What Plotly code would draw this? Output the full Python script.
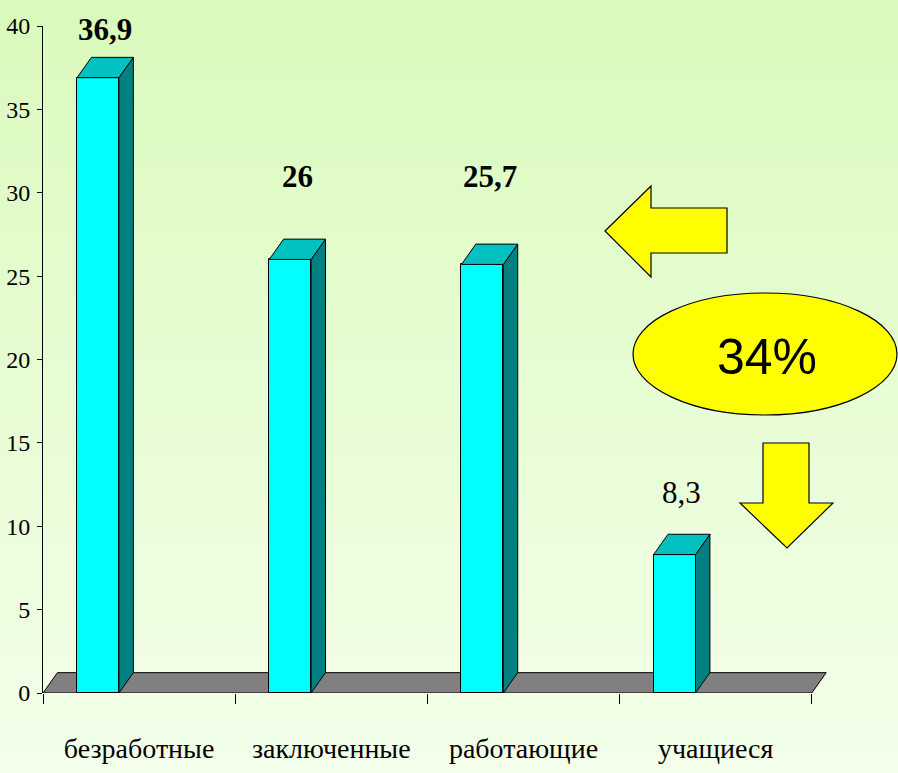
import plotly.graph_objects as go

# ---- data ----
categories = ["безработные", "заключенные", "работающие", "учащиеся"]
values = [36.9, 26, 25.7, 8.3]
value_labels = ["36,9", "26", "25,7", "8,3"]
y_ticks = [0, 5, 10, 15, 20, 25, 30, 35, 40]
share_text = "34%"

# ---- geometry / style ----
W, H = 898, 773
ML, MR, MT, MB = 43, 67, 26, 80
XMAX, YMAX = 4.1, 40
BAR_OFF, BAR_W = 0.177, 0.218     # front face inside each category slot
DX, DY = 0.075, 1.22              # 3D depth offset in axis units
label_offsets = [2.9, 5.0, 5.3, 3.7]
label_bold = [True, True, True, False]

FRONT, TOP, SIDE, FLOOR = "#00ffff", "#00c0c0", "#008080", "#808080"
SERIF = "Liberation Serif, Times New Roman, serif"

pw, ph = W - ML - MR, H - MT - MB
def px(xp):  # pixel -> paper x
    return (xp - ML) / pw
def py(yp):  # pixel -> paper y
    return (H - MB - yp) / ph

fig = go.Figure()

x_left = [i + BAR_OFF for i in range(len(values))]
fig.add_trace(go.Bar(
    x=[xl + BAR_W / 2 for xl in x_left], y=values, width=BAR_W, base=0,
    marker=dict(color=FRONT, line=dict(color="black", width=1)),
    hoverinfo="skip", showlegend=False))

shapes = []
# background gradient
top_c, bot_c = (218, 250, 188), (243, 255, 234)
n = 60
for k in range(n):
    t = k / (n - 1)
    c = tuple(round(top_c[j] + (bot_c[j] - top_c[j]) * t) for j in range(3))
    shapes.append(dict(type="rect", xref="paper", yref="paper", layer="below",
                       x0=px(0), x1=px(W), y0=py(k * H / n), y1=py((k + 1) * H / n + 1),
                       fillcolor="rgb(%d,%d,%d)" % c, line=dict(width=0)))
# floor
nc = len(categories)
shapes.append(dict(type="path", xref="x", yref="y", layer="below",
                   path=f"M0,0 L{nc},0 L{nc+DX},{DY} L{DX},{DY} Z",
                   fillcolor=FLOOR, line=dict(color="black", width=1)))
# 3D faces
for xl, v in zip(x_left, values):
    xr = xl + BAR_W
    shapes.append(dict(type="path", xref="x", yref="y", layer="above",
                       path=f"M{xr},0 L{xr+DX},{DY} L{xr+DX},{v+DY} L{xr},{v} Z",
                       fillcolor=SIDE, line=dict(color="black", width=1)))
    shapes.append(dict(type="path", xref="x", yref="y", layer="above",
                       path=f"M{xl},{v} L{xl+DX},{v+DY} L{xr+DX},{v+DY} L{xr},{v} Z",
                       fillcolor=TOP, line=dict(color="black", width=1)))

# decorations: left arrow, ellipse, down arrow
def poly(pts):
    return "M" + " L".join(f"{px(a):.5f},{py(b):.5f}" for a, b in pts) + " Z"

YEL = "#ffff00"
shapes.append(dict(type="path", xref="paper", yref="paper",
                   path=poly([(605, 231), (651, 186), (651, 208), (727, 208),
                              (727, 253), (651, 253), (651, 277)]),
                   fillcolor=YEL, line=dict(color="black", width=1.2)))
shapes.append(dict(type="circle", xref="paper", yref="paper",
                   x0=px(633), x1=px(897), y0=py(415), y1=py(293),
                   fillcolor=YEL, line=dict(color="black", width=1.2)))
shapes.append(dict(type="path", xref="paper", yref="paper",
                   path=poly([(763, 443), (809, 443), (809, 503), (833, 503),
                              (787, 548), (740, 503), (763, 503)]),
                   fillcolor=YEL, line=dict(color="black", width=1.2)))

annotations = []
for xl, v, lab, off, b in zip(x_left, values, value_labels, label_offsets, label_bold):
    annotations.append(dict(x=xl + (BAR_W + DX) / 2, y=v + off, xref="x", yref="y",
                            text=f"<b>{lab}</b>" if b else lab, showarrow=False,
                            font=dict(family=SERIF, size=31, color="black"),
                            xanchor="center", yanchor="middle"))
annotations.append(dict(x=px(767), y=py(357), xref="paper", yref="paper",
                        text=share_text, showarrow=False,
                        font=dict(family="Liberation Sans, Arial, sans-serif", size=50, color="black"),
                        xanchor="center", yanchor="middle"))

fig.update_layout(
    width=W, height=H,
    margin=dict(l=ML, r=MR, t=MT, b=MB, pad=0, autoexpand=False),
    paper_bgcolor="#eefde0", plot_bgcolor="rgba(0,0,0,0)",
    shapes=shapes, annotations=annotations, bargap=0,
    xaxis=dict(range=[0, XMAX], showgrid=False, zeroline=False, showline=False,
               automargin=False,
               tickvals=[i + 0.5 for i in range(nc)], ticktext=categories,
               ticks="", ticklabelstandoff=36,
               tickfont=dict(family=SERIF, size=28, color="black"),
               minor=dict(tickmode="array", tickvals=list(range(nc + 1)),
                          ticks="outside", ticklen=10, tickcolor="black", tickwidth=1,
                          showgrid=False)),
    yaxis=dict(range=[0, YMAX], showgrid=False, zeroline=False,
               automargin=False,
               showline=True, linecolor="black", linewidth=1,
               tickvals=y_ticks, ticks="outside", ticklen=5, tickcolor="black",
               ticklabelstandoff=2,
               tickfont=dict(family=SERIF, size=24, color="black")),
)

fig.write_html("out.html")
